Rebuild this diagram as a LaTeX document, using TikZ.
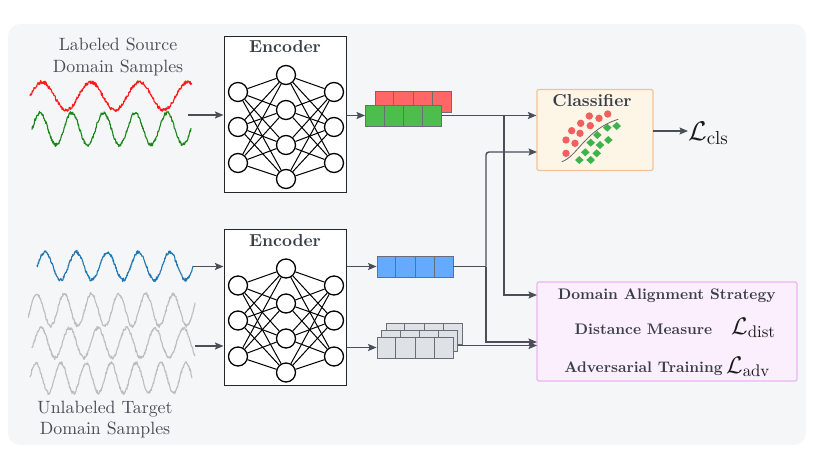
\RequirePackage{fix-cm}
\documentclass[tikz,border=0pt]{standalone}
\usepackage{fontspec}
\setmainfont{lmroman10}[Extension=.otf, UprightFont=*-regular, BoldFont=*-bold, ItalicFont=*-italic, BoldItalicFont=*-bolditalic]
\usetikzlibrary{arrows.meta,calc}
\definecolor{bgc}{HTML}{F5F6F8}
\definecolor{arr}{HTML}{4A4F57}
\definecolor{txt}{HTML}{3A3F47}
\definecolor{lbl}{HTML}{484C53}
\definecolor{wred}{HTML}{FF1A1A}
\definecolor{wgreen}{HTML}{1A861A}
\definecolor{wblue}{HTML}{1F77B4}
\definecolor{wgray}{HTML}{BDBDBD}
\definecolor{fred}{HTML}{FF6666}
\definecolor{fgreen}{HTML}{4DBE4D}
\definecolor{fblue}{HTML}{66AAFF}
\definecolor{fgray}{HTML}{DEE1E5}
\definecolor{fedge}{HTML}{6A6F77}
\definecolor{clsfill}{HTML}{FDF5E6}
\definecolor{clsedge}{HTML}{F0C49A}
\definecolor{domfill}{HTML}{FBEEFD}
\definecolor{domedge}{HTML}{E9B6F1}
\definecolor{cred}{HTML}{F25F5F}
\definecolor{cgreen}{HTML}{3CB44B}
\newcommand{\featbar}[4]{%
  \node[featnode, fill=#4] (#1) at (#2,#3) {};
  \foreach \k in {1,2,3}
    \draw[fedge, line width=0.9pt] ($(#1.north west)!\k/4!(#1.north east)$) -- ($(#1.south west)!\k/4!(#1.south east)$);
}
\begin{document}
\begin{tikzpicture}[x=1pt,y=-1pt,
  conn/.style={draw=arr, line width=1.4pt, -{Stealth[length=8.5pt,width=7pt,inset=1.5pt]}},
  plainline/.style={draw=arr, line width=1.4pt},
  wave/.style={line width=1.1pt, line join=round},
  encbox/.style={draw=black!85, fill=white, line width=1pt, minimum width=122pt, minimum height=156pt, inner sep=0pt},
  neuron/.style={circle, draw=black, fill=white, line width=1.3pt, minimum size=19pt, inner sep=0pt},
  synapse/.style={draw=black, line width=1pt},
  bigtitle/.style={font=\bfseries\fontsize{17.3}{20}\selectfont, text=txt, inner sep=0pt, anchor=base},
  domtxt/.style={font=\bfseries\fontsize{15.3}{18}\selectfont, text=txt, inner sep=0pt, anchor=base},
  samplelbl/.style={font=\fontsize{17.8}{22}\selectfont, text=lbl, inner sep=0pt, anchor=base},
  featnode/.style={rectangle, draw=fedge, line width=0.9pt, minimum width=76pt, minimum height=21pt, inner sep=0pt},
  lossbig/.style={font=\fontsize{27}{30}\selectfont, text=black!90, inner sep=0pt, anchor=base west},
  losssm/.style={font=\fontsize{24}{27}\selectfont, text=black!90, inner sep=0pt, anchor=base west},
]
\useasboundingbox (0,0) rectangle (831,463);
\fill[bgc, rounded corners=12pt] (8,24) rectangle (806,445);

% ---- sample labels
\node[samplelbl] (src1) at (118,50) {Labeled Source};
\node[samplelbl] (src2) at (118,72) {Domain Samples};
\node[samplelbl] (tgt1) at (105,413) {Unlabeled Target};
\node[samplelbl] (tgt2) at (105,434) {Domain Samples};

% ---- waves
\pgfmathsetseed{7}
\draw[wred, wave] plot[domain=30:192, samples=360] (\x, {96 - 14*cos((\x-42)*7.3922) + 1.8*rand});
\draw[wgreen, wave] plot[domain=32:191, samples=360] (\x, {129 - 16*cos((\x-40)*11.3386) + 1.8*rand});
\draw[wblue, wave] plot[domain=37:193, samples=360] (\x, {266 - 14*cos((\x-45)*11.5385) + 1.7*rand});
\draw[wgray, wave] plot[domain=28:195, samples=360] (\x, {310 - 16*cos((\x-37)*13.2353) + 1.7*rand});
\draw[wgray, wave] plot[domain=32:195, samples=360] (\x, {343 - 15*cos((\x-41)*12.6316) + 1.7*rand});
\draw[wgray, wave] plot[domain=30:192, samples=360] (\x, {378 - 15*cos((\x-36)*14.4) + 1.7*rand});

% ---- encoders
\foreach \e/\cy in {1/114, 2/307.5} {
  \node[encbox] (enc\e) at (285,\cy) {};
  \node[bigtitle] (enc\e t) at (285,\cy-61.5) {Encoder};
  \foreach \i/\dy in {1/-22, 2/13, 3/49} {
    \node[neuron] (n\e-l\i) at (238,\cy+\dy) {};
    \node[neuron] (n\e-r\i) at (334,\cy+\dy) {};
  }
  \foreach \j/\dy in {1/-39, 2/-4, 3/31, 4/65}
    \node[neuron] (n\e-m\j) at (286,\cy+\dy) {};
  \foreach \i in {1,2,3}
    \foreach \j in {1,2,3,4} {
      \draw[synapse] (n\e-l\i) -- (n\e-m\j);
      \draw[synapse] (n\e-m\j) -- (n\e-r\i);
    }
}

% ---- feature bars
\featbar{r}{413}{101.5}{fred}
\featbar{g}{403.5}{115.5}{fgreen}
\featbar{b}{415}{266.5}{fblue}
\featbar{k3}{424}{333.5}{fgray}
\featbar{k2}{419.5}{340.5}{fgray}
\featbar{k1}{415}{347.5}{fgray}

% ---- classifier
\node[rectangle, draw=clsedge, fill=clsfill, line width=1.2pt, rounded corners=1.5pt, minimum width=116pt, minimum height=81pt, inner sep=0pt] (cls) at (595,130) {};
\node[bigtitle] (clst) at (592,106.5) {Classifier};
\foreach \px/\py in {589.3/116, 599/118.3, 607.7/114, 580.7/123.3, 590.3/125.7, 571.7/130.7, 580/133.3, 566/140, 575/143.3, 566/153.3}
  \fill[cred] (\px,\py) circle (3.7pt);
\foreach \px/\py in {607.3/127.7, 616.7/126, 597.3/135, 608.3/140, 600/145, 590.7/142.7, 585.3/152.3, 596.7/153.3, 579.3/160, 590.7/160}
  \fill[cgreen] (\px,\py-4) -- (\px+4.3,\py) -- (\px,\py+4) -- (\px-4.3,\py) -- cycle;
\draw[black!60, line width=0.8pt] (561.7,161.7) .. controls (577,157) and (586,129) .. (618.3,119.3);
\node[lossbig] (lcls) at (688,140) {$\mathcal{L}_{\mathrm{cls}}$};

% ---- domain alignment
\node[rectangle, draw=domedge, fill=domfill, line width=1.2pt, rounded corners=2pt, minimum width=260pt, minimum height=99pt, inner sep=0pt] (dom) at (667,331.5) {};
\node[domtxt] (dt1) at (666.7,299) {Domain Alignment Strategy};
\node[domtxt] (dt2) at (643.5,334) {Distance Measure};
\node[domtxt] (dt3) at (643.5,372.5) {Adversarial Training};
\node[losssm] (ldist) at (731,334) {$\mathcal{L}_{\mathrm{dist}}$};
\node[losssm] (ladv) at (726,373) {$\mathcal{L}_{\mathrm{adv}}$};

% ---- connectors
\coordinate (s1) at (188,115);
\coordinate (s2) at (193,266.5);
\coordinate (s3) at (195,346);
\draw[conn] (s1) -- (s1 -| enc1.west);
\draw[conn] (s2) -- (s2 -| enc2.west);
\draw[conn] (s3) -- (s3 -| enc2.west);
\draw[conn] (enc1.east |- g.east) -- (g.west);
\draw[conn] (enc2.east |- b.east) -- (b.west);
\draw[conn] (enc2.east |- k1.east) -- (k1.west);

\coordinate (j1) at (504,115.5);
\coordinate (j2) at (486,266.5);
\coordinate (ci2) at (537,152);
\coordinate (di1) at (537,295);
\coordinate (di2) at (537,342);
\coordinate (di3) at (537,345.5);
\coordinate (gout) at (458,345.5);
\coordinate (lo) at (653,131);
\draw[conn] (g.east) -- (g.east -| cls.west);
\draw[conn] (j1) |- (di1);
\draw[plainline] (b.east) -- (j2);
\draw[conn, rounded corners=3pt] (j2) |- (ci2);
\draw[conn] (j2) |- (di2);
\draw[conn] (gout) -- (di3);
\draw[conn] (lo) -- (lo -| lcls.west);
\end{tikzpicture}
\end{document}
